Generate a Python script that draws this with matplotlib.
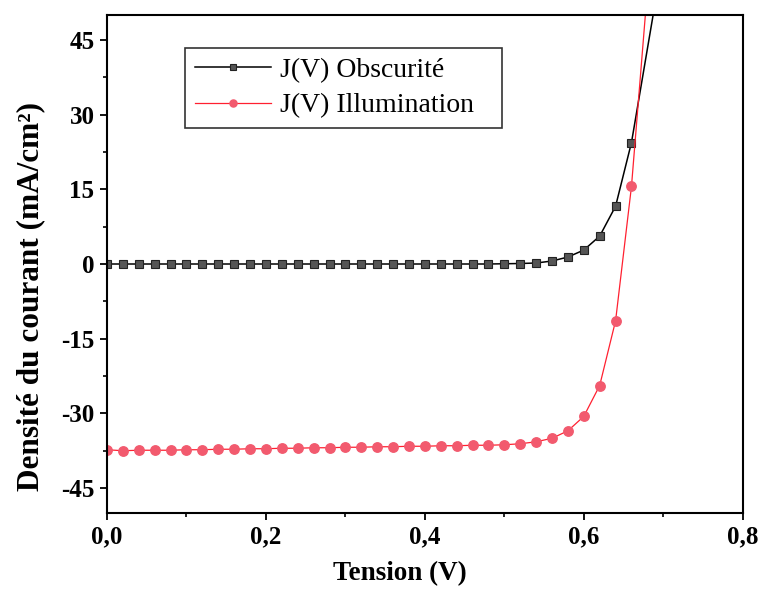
import numpy as np
import matplotlib
matplotlib.use("Agg")
from matplotlib import pyplot as plt
from matplotlib.ticker import MultipleLocator, FuncFormatter

# tension (V)
v_dark = [0.00, 0.02, 0.04, 0.06, 0.08, 0.10, 0.12, 0.14, 0.16, 0.18, 0.20,
          0.22, 0.24, 0.26, 0.28, 0.30, 0.32, 0.34, 0.36, 0.38, 0.40, 0.42,
          0.44, 0.46, 0.48, 0.50, 0.52, 0.54, 0.56, 0.58, 0.60, 0.62, 0.64,
          0.66, 0.70]
j_dark = [0.0, 0.0, 0.0, 0.0, 0.0, 0.0, 0.0, 0.0, 0.0, 0.0, 0.0,
          0.0, 0.0, 0.0, 0.0, 0.0, 0.0, 0.0, 0.0, 0.0, 0.0, 0.0,
          0.0, 0.0, 0.0, 0.05, 0.1, 0.2, 0.6, 1.4, 2.8, 5.6, 11.6,
          24.4, 62.0]

v_light = [0.00, 0.02, 0.04, 0.06, 0.08, 0.10, 0.12, 0.14, 0.16, 0.18, 0.20,
           0.22, 0.24, 0.26, 0.28, 0.30, 0.32, 0.34, 0.36, 0.38, 0.40, 0.42,
           0.44, 0.46, 0.48, 0.50, 0.52, 0.54, 0.56, 0.58, 0.60, 0.62, 0.64,
           0.66, 0.68]
j_light = [-37.3, -37.5, -37.4, -37.4, -37.4, -37.3, -37.3, -37.2, -37.2,
           -37.1, -37.1, -37.0, -37.0, -36.9, -36.9, -36.8, -36.8, -36.7,
           -36.7, -36.6, -36.6, -36.5, -36.5, -36.4, -36.4, -36.3, -36.1,
           -35.7, -35.0, -33.5, -30.6, -24.4, -11.4, 15.6, 55.0]

x_ticks = [0.0, 0.2, 0.4, 0.6, 0.8]
y_ticks = [-45, -30, -15, 0, 15, 30, 45]

serif = ['Liberation Serif', 'DejaVu Serif']
plt.rcParams['font.family'] = serif

fig = plt.figure(figsize=(7.61, 5.94), dpi=100)
ax = fig.add_axes([0.1406, 0.1364, 0.8354, 0.8383])

ax.plot(v_dark, j_dark, '-', color='black', lw=1.1, marker='s', ms=5.3,
        mfc='#555555', mec='#222222', mew=0.8, label='J(V) Obscurité')
ax.plot(v_light, j_light, '-', color='#ff2030', lw=0.9, marker='o', ms=6.8,
        mfc='#f25a6e', mec='#f25a6e', label='J(V) Illumination')

ax.set_xlim(0, 0.8)
ax.set_ylim(-50, 50)
ax.set_xticks(x_ticks)
ax.set_yticks(y_ticks)
ax.xaxis.set_minor_locator(MultipleLocator(0.1))
ax.yaxis.set_minor_locator(MultipleLocator(7.5))
ax.xaxis.set_major_formatter(FuncFormatter(lambda v, p: ("%.1f" % v).replace('.', ',')))
ax.yaxis.set_major_formatter(FuncFormatter(lambda v, p: "%d" % v))

ax.tick_params(which='major', direction='out', length=5, width=1.3,
               labelsize=18, top=False, right=False, pad=4)
ax.tick_params(which='minor', direction='out', length=3, width=1.2,
               top=False, right=False)
for lab in ax.get_xticklabels() + ax.get_yticklabels():
    lab.set_fontweight('bold')
for sp in ax.spines.values():
    sp.set_linewidth(1.5)

ax.set_xlabel('Tension (V)', fontsize=19.5, fontweight='bold')
ax.set_ylabel('Densité du courant (mA/cm²)', fontsize=22.5, fontweight='bold')
ax.xaxis.set_label_coords(0.461, -0.097)
ax.yaxis.set_label_coords(-0.097, 0.434)

# legend box stretched to the width seen in the picture
leg = ax.legend(loc='upper left', bbox_to_anchor=(0.123, 0.734, 0.498, 0.2),
                mode='expand', fontsize=20,
                frameon=True, fancybox=False, edgecolor='black',
                handlelength=2.75, handletextpad=0.3, borderpad=0.35,
                labelspacing=0.35, markerscale=0.75, borderaxespad=0)
leg.get_frame().set_linewidth(1.2)

plt.savefig('out.png', dpi=100)
